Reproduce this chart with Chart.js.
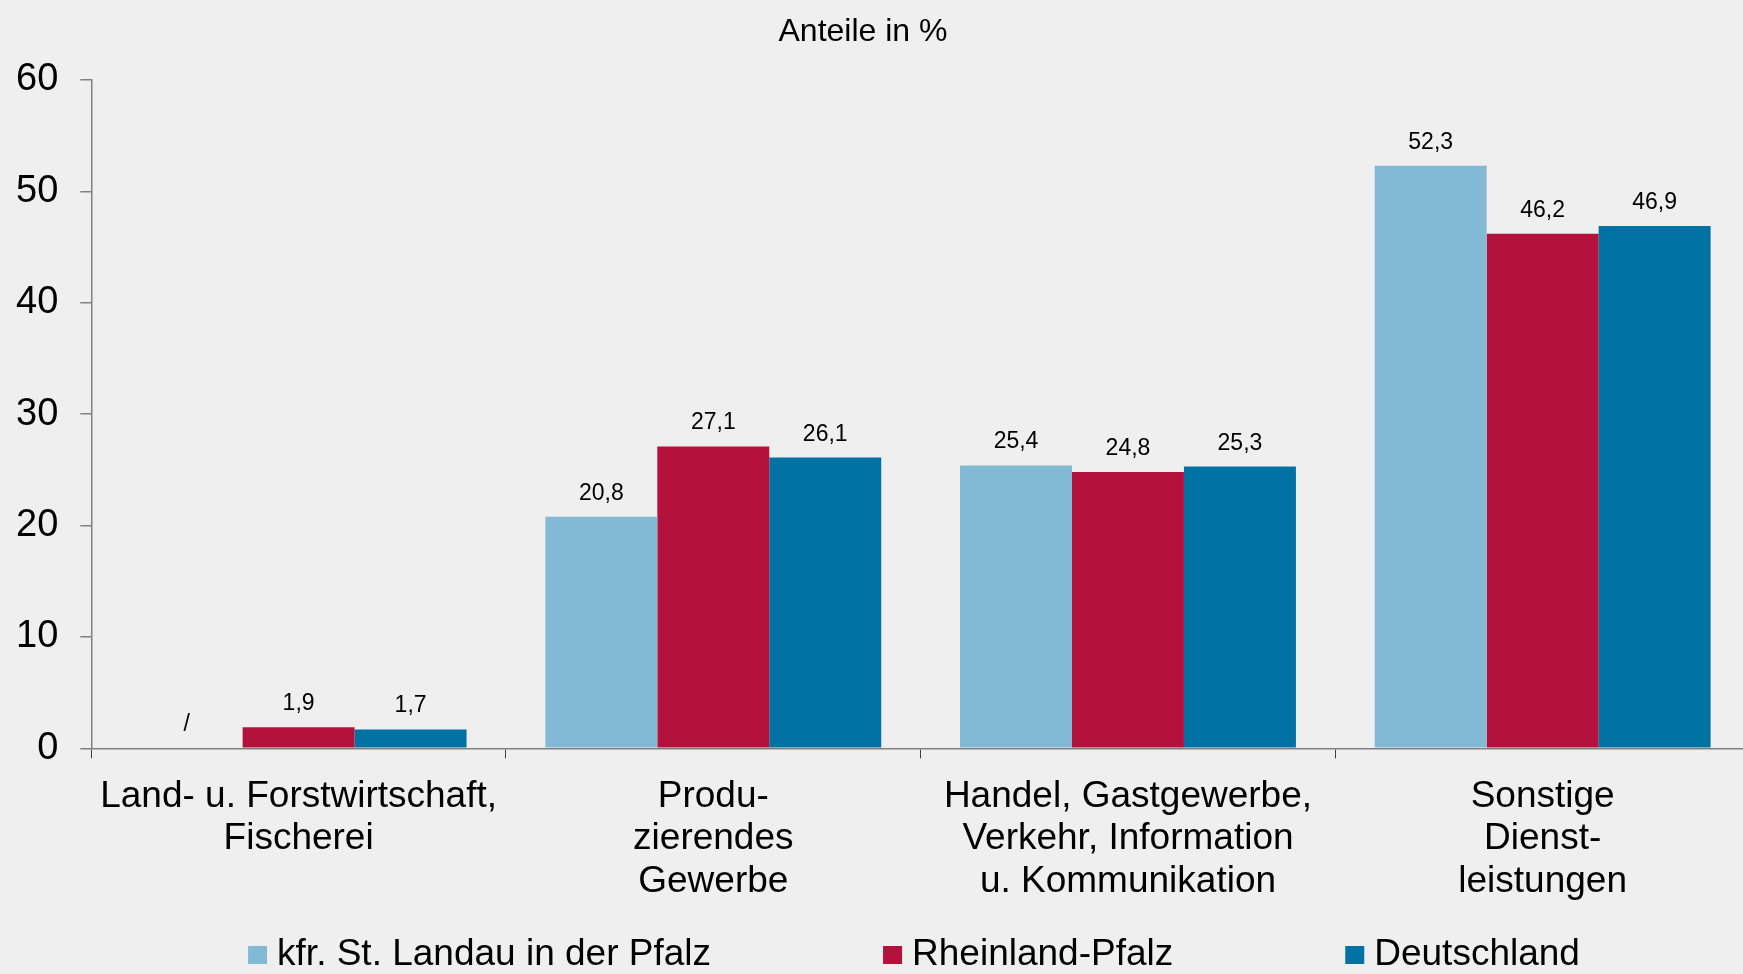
<!DOCTYPE html>
<html lang="de">
<head>
<meta charset="utf-8">
<title>Anteile in %</title>
<script src="https://cdn.jsdelivr.net/npm/chart.js@4/dist/chart.umd.min.js"></script>
<style>
    html, body { margin: 0; padding: 0; background: #eeefee; overflow: hidden; }
    /* plot runs a few pixels past the right edge, as in the original */
    #wrap { width: 1750px; height: 974px; position: relative; }
</style>
</head>
<body>
<div id="wrap"><canvas id="myChart"></canvas></div>
<script>
// Chart data
const categories = [
    ['Land- u. Forstwirtschaft,', 'Fischerei'],
    ['Produ-', 'zierendes', 'Gewerbe'],
    ['Handel, Gastgewerbe,', 'Verkehr, Information', 'u. Kommunikation'],
    ['Sonstige', 'Dienst-', 'leistungen']
];
const seriesNames = ['kfr. St. Landau in der Pfalz', 'Rheinland-Pfalz', 'Deutschland'];
const landau = [null, 20.8, 25.4, 52.3];
const rheinlandPfalz = [1.9, 27.1, 24.8, 46.2];
const deutschland = [1.7, 26.1, 25.3, 46.9];
const yTicks = [0, 10, 20, 30, 40, 50, 60];
const chartTitle = 'Anteile in %';

const fontFamily = '"Liberation Sans", Arial, sans-serif';

// value labels above the bars, "/" where no value
const valueLabels = {
    id: 'valueLabels',
    afterDatasetsDraw(chart) {
        const ctx = chart.ctx;
        const base = chart.scales.y.getPixelForValue(0);
        ctx.save();
        ctx.font = '23px ' + fontFamily;
        ctx.textAlign = 'center';
        ctx.textBaseline = 'alphabetic';
        ctx.fillStyle = '#000';
        chart.data.datasets.forEach((ds, i) => {
            chart.getDatasetMeta(i).data.forEach((bar, j) => {
                const v = ds.data[j];
                if (v === null) {
                    ctx.fillText('/', bar.x, base - 17);
                } else {
                    ctx.fillText(v.toFixed(1).replace('.', ','), bar.x, bar.y - 17);
                }
            });
        });
        ctx.restore();
    }
};

// title on top and legend row at the bottom
const titleAndLegend = {
    id: 'titleAndLegend',
    afterDraw(chart) {
        const ctx = chart.ctx;
        const gap = 172;
        ctx.save();
        ctx.fillStyle = '#000';
        ctx.font = '32px ' + fontFamily;
        ctx.textAlign = 'center';
        ctx.textBaseline = 'alphabetic';
        ctx.fillText(chartTitle, 863, 41);

        ctx.font = '37px ' + fontFamily;
        ctx.textAlign = 'left';
        const widths = chart.data.datasets.map(ds => 29 + ctx.measureText(ds.label).width);
        const total = widths.reduce((a, b) => a + b, 0) + gap * (widths.length - 1);
        let x = 914 - total / 2;
        chart.data.datasets.forEach((ds, i) => {
            ctx.fillStyle = ds.backgroundColor;
            ctx.fillRect(x, 946, 19, 18);
            ctx.fillStyle = '#000';
            ctx.fillText(ds.label, x + 29, 965);
            x += widths[i] + gap;
        });
        ctx.restore();
    }
};

const ctx = document.getElementById('myChart').getContext('2d');
const myChart = new Chart(ctx, {
    type: 'bar',
    data: {
        labels: categories,
        datasets: [{
            label: seriesNames[0],
            data: landau,
            backgroundColor: '#82b9d4'
        }, {
            label: seriesNames[1],
            data: rheinlandPfalz,
            backgroundColor: '#b4123c'
        }, {
            label: seriesNames[2],
            data: deutschland,
            backgroundColor: '#0072a4'
        }]
    },
    options: {
        responsive: true,
        maintainAspectRatio: false,
        animation: false,
        layout: {
            padding: { left: -6, right: 0, top: 80, bottom: 54 }
        },
        datasets: {
            bar: {
                categoryPercentage: 0.81,
                barPercentage: 1.0,
                borderWidth: 0
            }
        },
        plugins: {
            legend: { display: false },
            tooltip: { enabled: false },
            title: { display: false }
        },
        scales: {
            x: {
                grid: {
                    display: true,
                    drawOnChartArea: false,
                    drawTicks: true,
                    tickLength: 10,
                    color: '#404040',
                    lineWidth: 1
                },
                border: { display: true, color: '#808080', width: 1.5 },
                ticks: {
                    color: '#000',
                    padding: 17,
                    maxRotation: 0,
                    autoSkip: false,
                    font: { family: fontFamily, size: 37, lineHeight: 1.15 }
                }
            },
            y: {
                min: 0,
                max: 60,
                afterBuildTicks(scale) {
                    scale.ticks = yTicks.map(v => ({ value: v }));
                },
                grid: {
                    display: true,
                    drawOnChartArea: false,
                    drawTicks: true,
                    tickLength: 11,
                    color: '#808080',
                    lineWidth: 1.5
                },
                border: { display: true, color: '#808080', width: 1.5 },
                ticks: {
                    color: '#000',
                    padding: 22,
                    font: { family: fontFamily, size: 38 }
                }
            }
        }
    },
    plugins: [valueLabels, titleAndLegend]
});
</script>
</body>
</html>
